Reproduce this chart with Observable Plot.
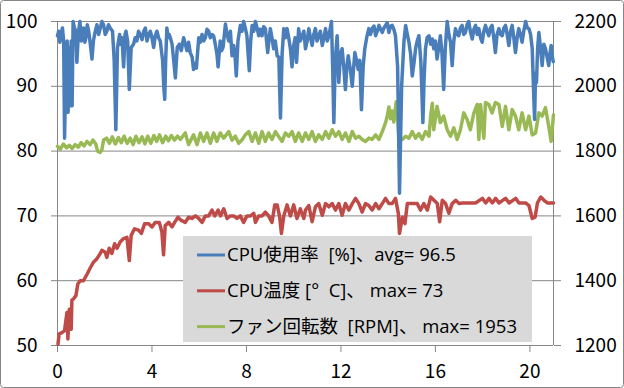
<!DOCTYPE html>
<html><head><meta charset="utf-8">
<script src="https://cdn.jsdelivr.net/npm/d3@7"></script>
<script src="https://cdn.jsdelivr.net/npm/@observablehq/plot@0.6"></script>
<style>
html,body{margin:0;padding:0;background:#fff;}
#chart{width:624px;height:388px;}
</style></head><body><div id="chart"></div>
<script>
// ---- tick labels ----
const xTicks = [0, 4, 8, 12, 16, 20];
const yTicks = [50, 60, 70, 80, 90, 100];
const rpmTicks = [1200, 1400, 1600, 1800, 2000, 2200];

// ---- legend ----
const seriesNames = ["CPU使用率  [%]、avg= 96.5", "CPU温度 [°  C]、 max= 73", "ファン回転数  [RPM]、 max= 1953"];
const seriesColors = ["#4a7ebb", "#be4b48", "#98b954"];

// ---- CPU usage [%] ----
const cpuT = [0.00,0.05,0.10,0.15,0.21,0.26,0.30,0.34,0.37,0.41,0.45,0.49,0.53,0.58,0.62,0.66,0.72,0.78,0.82,0.89,0.95,1.01,1.10,1.16,1.20,1.26,1.32,1.39,1.46,1.52,1.57,1.67,1.74,1.81,1.88,1.95,2.02,2.09,2.16,2.23,2.33,2.40,2.47,2.54,2.63,2.68,2.73,2.80,2.86,2.90,2.97,3.04,3.12,3.22,3.29,3.36,3.43,3.50,3.58,3.65,3.72,3.79,3.86,3.93,4.00,4.07,4.14,4.21,4.28,4.35,4.40,4.45,4.50,4.54,4.58,4.63,4.68,4.73,4.80,4.85,4.92,4.99,5.07,5.16,5.24,5.34,5.41,5.48,5.55,5.62,5.70,5.76,5.82,5.88,5.98,6.05,6.12,6.19,6.26,6.33,6.40,6.47,6.54,6.61,6.68,6.75,6.80,6.89,6.95,7.01,7.11,7.18,7.25,7.32,7.39,7.46,7.52,7.57,7.64,7.74,7.81,7.88,7.95,8.02,8.07,8.12,8.18,8.24,8.31,8.38,8.45,8.52,8.59,8.66,8.73,8.80,8.90,8.95,9.01,9.08,9.15,9.22,9.30,9.37,9.44,9.51,9.58,9.65,9.72,9.79,9.86,9.93,10.00,10.06,10.12,10.21,10.28,10.36,10.43,10.50,10.57,10.64,10.71,10.78,10.85,10.92,10.99,11.06,11.13,11.21,11.28,11.35,11.42,11.49,11.55,11.60,11.65,11.70,11.76,11.84,11.91,11.98,12.05,12.12,12.19,12.25,12.31,12.40,12.48,12.54,12.59,12.66,12.73,12.80,12.87,12.94,13.01,13.09,13.18,13.25,13.32,13.40,13.47,13.54,13.61,13.68,13.75,13.82,13.89,13.96,14.03,14.10,14.17,14.24,14.31,14.40,14.48,14.57,14.67,14.74,14.81,14.88,14.95,15.02,15.09,15.16,15.23,15.30,15.38,15.42,15.47,15.52,15.58,15.65,15.73,15.80,15.87,15.93,16.00,16.07,16.14,16.21,16.28,16.35,16.42,16.50,16.57,16.64,16.71,16.78,16.85,16.92,16.99,17.06,17.13,17.20,17.27,17.34,17.41,17.48,17.56,17.63,17.70,17.77,17.84,17.91,17.98,18.05,18.12,18.19,18.26,18.33,18.40,18.47,18.54,18.61,18.69,18.76,18.83,18.90,18.97,19.04,19.11,19.18,19.25,19.32,19.39,19.46,19.53,19.60,19.67,19.74,19.82,19.89,19.96,20.03,20.10,20.15,20.20,20.24,20.28,20.33,20.38,20.45,20.52,20.59,20.66,20.73,20.80,20.85,20.90,20.95,20.99];
const cpuV = [97.8,98.5,96.8,98,99,97,82,90,86,97,86,96,87,97,87,100,99,98.5,93.7,98.5,100,97,99,96.8,97.5,99.5,98.5,96.5,94.2,97,98,99.5,98,99,100,99.5,98,98.5,99.5,99,98.5,94,83.3,96,98,96.5,97.5,93,98,98.5,97,89.5,96,96.5,97.5,97,98.5,98,97.2,98.5,99,97,98,98.5,97.5,96,97.8,98.5,97.5,97,95.5,94,90,88,94,99,97.5,98,97.2,96.5,94,91.3,96,96.5,95.5,97.5,96.5,95.5,96.8,95.2,94.5,92.6,93.5,92.8,97.5,96.8,98,97,97.5,98.8,98.5,97.5,98,97.8,96.5,95,93,97,95.5,96,99.6,98,97,98.5,94.7,96.3,94.5,91.6,97,99.4,98.5,100,99,97.8,95,92.4,97,99.4,98.5,100,99,97.8,98.8,97.8,99.2,98.9,95.2,97,98.9,97.5,95.8,97,94.7,94.5,85.1,95,98.9,97.5,98.9,97.5,95.8,93,96.3,97.5,93.7,98.9,97,97.8,98.5,95.8,97,98.9,97.5,96.3,98,98.9,97,97.8,98.5,96.3,97.5,98.9,97,97.8,99,100,93,84.4,94,97.8,90.6,95,95.8,93,89.5,93,94.7,92.5,90,93,95.2,94,92.6,94,86.4,93,95.8,97.5,98.9,98,98.9,99.3,97.8,98.5,99.4,98.8,98.3,99,99.4,99.8,98.3,99.3,99.4,98.8,97.8,93,73.5,90,97,99.4,98,96.8,95,91.6,93.5,95.8,97,97.8,94,90,84.4,91,95.8,97.5,97.8,96.5,97.3,95.8,97,94.2,96,97.8,95,89.5,96,100,98,96.8,93.2,97,98.9,98,97.8,99,99.4,98,98.3,99.5,100,98.5,97.3,98.8,99.4,98,98.9,97.5,96.8,98.5,99.4,98.5,97.8,99,99.4,97.5,95.2,98,98.9,98,97.8,99,99.4,98,96.3,98.5,99.4,97.5,95.2,97.5,98.9,98,96.8,98.5,100,99,98.9,98,95.8,90,84.9,92,90.6,96,98.3,96,93.2,96.5,95.8,94.5,93.2,95,96.3,94.5,93.8];

// ---- CPU temperature [°C] ----
const tempT = [0.02,0.07,0.19,0.30,0.40,0.44,0.50,0.58,0.61,0.68,0.78,0.86,0.96,1.10,1.25,1.39,1.53,1.67,1.81,1.88,2.02,2.09,2.19,2.30,2.42,2.52,2.66,2.80,2.94,3.04,3.12,3.26,3.43,3.55,3.69,3.86,4.00,4.14,4.31,4.42,4.49,4.56,4.71,4.85,4.96,5.10,5.24,5.41,5.55,5.69,5.84,5.98,6.12,6.26,6.40,6.54,6.66,6.80,6.90,7.04,7.18,7.32,7.46,7.60,7.74,7.88,8.02,8.17,8.31,8.38,8.52,8.66,8.80,8.94,9.08,9.20,9.30,9.40,9.48,9.58,9.72,9.86,10.00,10.14,10.28,10.43,10.50,10.64,10.78,10.92,11.06,11.21,11.35,11.49,11.63,11.77,11.91,12.05,12.19,12.34,12.48,12.62,12.76,12.90,13.04,13.18,13.32,13.47,13.61,13.75,13.89,14.03,14.17,14.31,14.43,14.48,14.60,14.71,14.81,14.95,15.09,15.23,15.37,15.51,15.66,15.80,15.94,16.08,16.18,16.29,16.43,16.57,16.71,16.86,17.00,17.14,17.40,17.70,17.99,18.13,18.27,18.41,18.55,18.69,18.97,19.12,19.40,19.54,19.82,19.96,20.10,20.22,20.32,20.46,20.60,20.74,20.88,21.00];
const tempV = [50.2,51.8,52,52.3,55.1,51,55.6,52.5,57,57.2,57.7,59.5,60,60,61,62,62.9,63.4,64.2,64.7,64.4,63.6,65,64.2,65.7,65,66,66.5,66.7,63.1,67,68,67.8,67.3,68.8,68.8,68.3,69,69,67.5,64,68.5,69,68.3,69,69.8,69.3,69,69.8,69.6,70,69.6,69,70,70,70.9,70,70.9,70,71.1,69.6,70,70,69.6,70,69,70,70,70.4,69,70,70,70.6,70,69,71.7,71.7,70,67.3,70,71.7,70,71.7,69.6,71.1,69.6,70.9,71.6,69.1,71.4,71.9,70.1,71.9,71.4,71.9,70.9,71.9,70.1,71.9,70.9,71.9,72.7,71.9,70.6,71.9,71.6,70.9,71.9,71.1,71.9,72.7,71.9,71.9,72.7,70.4,67.3,69.8,68.8,71.9,71.9,71.9,71.9,70.9,71.9,70.9,72.9,72.4,71.9,69.1,72.4,71.9,70.4,71.9,72.4,71.9,72,72,72,72.7,72,72.7,72,72.7,72,72.7,72,72.7,72,72,71.6,69.6,69.8,72,72.9,72.4,72,72,72];

// ---- Fan speed [RPM] ----
const fanT = [0.00,0.12,0.25,0.38,0.50,0.62,0.75,0.88,1.00,1.12,1.25,1.38,1.50,1.62,1.70,1.80,1.88,1.95,2.08,2.20,2.32,2.45,2.58,2.70,2.82,2.95,3.08,3.20,3.32,3.45,3.58,3.70,3.82,3.95,4.08,4.20,4.32,4.45,4.58,4.70,4.82,4.95,5.08,5.20,5.41,5.55,5.76,5.91,6.05,6.19,6.33,6.47,6.61,6.75,6.89,7.04,7.25,7.39,7.53,7.67,7.81,7.95,8.10,8.24,8.38,8.52,8.66,8.80,8.94,9.08,9.23,9.37,9.51,9.65,9.79,9.93,10.07,10.21,10.36,10.50,10.64,10.78,10.92,11.06,11.21,11.35,11.49,11.63,11.77,11.91,12.05,12.19,12.34,12.48,12.62,12.76,12.90,13.04,13.18,13.32,13.47,13.61,13.75,13.89,13.96,14.03,14.10,14.17,14.24,14.34,14.40,14.45,14.60,14.74,14.88,15.02,15.16,15.30,15.44,15.58,15.73,15.80,15.87,15.93,16.07,16.21,16.35,16.50,16.64,16.78,16.92,17.06,17.20,17.34,17.48,17.63,17.77,17.84,17.91,18.05,18.12,18.26,18.40,18.54,18.69,18.83,18.97,19.11,19.25,19.39,19.53,19.67,19.82,19.96,20.10,20.24,20.38,20.52,20.66,20.80,20.90,21.00];
const fanV = [1815,1806,1822,1810,1818,1808,1820,1812,1826,1816,1830,1820,1834,1822,1800,1796,1804,1834,1840,1824,1844,1822,1842,1826,1846,1824,1840,1820,1846,1826,1844,1822,1846,1824,1848,1830,1850,1826,1846,1832,1848,1834,1846,1836,1856,1820,1850,1820,1856,1830,1856,1824,1856,1830,1856,1840,1860,1834,1846,1824,1834,1850,1860,1830,1856,1824,1860,1830,1856,1836,1860,1844,1830,1856,1846,1860,1830,1856,1830,1856,1836,1860,1830,1850,1836,1860,1840,1866,1846,1860,1836,1856,1830,1860,1840,1846,1836,1830,1840,1836,1850,1836,1860,1888,1908,1936,1900,1924,1890,1952,1910,1840,1836,1846,1840,1860,1840,1854,1836,1860,1846,1910,1948,1866,1938,1888,1908,1866,1846,1872,1836,1866,1918,1898,1866,1918,1944,1836,1944,1840,1950,1944,1918,1950,1944,1876,1938,1866,1928,1908,1866,1918,1866,1908,1850,1856,1918,1908,1934,1876,1830,1912];

// ---- build tables ----
const cpu = cpuT.map((t, i) => ({t, v: cpuV[i]}));
const temp = tempT.map((t, i) => ({t, v: tempV[i]}));
const fan = fanT.map((t, i) => ({t, v: fanV[i]}));

// secondary axis: RPM [1200, 2200] maps onto left scale [50, 100]
const rpmDomain = [rpmTicks[0], rpmTicks[rpmTicks.length - 1]];
const leftDomain = [yTicks[0], yTicks[yTicks.length - 1]];
const toLeft = d3.scaleLinear().domain(rpmDomain).range(leftDomain);
const rpmLabel = new Map(rpmTicks.map(r => [toLeft(r), String(r)]));

const FONT = "'Noto Sans CJK JP', 'Noto Sans', sans-serif";
const LEGEND_FONT = "'Open Sans', 'Noto Sans CJK JP', sans-serif";
const GRID = "#868686";
const LW = 3.5;

const chart = Plot.plot({
  width: 624, height: 388,
  marginLeft: 57, marginRight: 71, marginTop: 21, marginBottom: 43,
  style: {fontFamily: FONT, fontSize: "19px", background: "#fff", color: "#000", overflow: "visible"},
  x: {domain: [0, 21], label: null},
  y: {domain: leftDomain, label: null},
  marks: [
    Plot.ruleY(yTicks, {stroke: GRID, strokeWidth: 1}),
    Plot.ruleX([0, 21], {stroke: GRID, strokeWidth: 1}),
    Plot.axisY(yTicks, {anchor: "left", tickSize: 6, tickPadding: 14, stroke: GRID, label: null}),
    Plot.axisY(rpmTicks.map(r => toLeft(r)), {anchor: "right", tickSize: 7, tickPadding: 14, stroke: GRID, label: null, tickFormat: d => rpmLabel.get(d)}),
    Plot.axisX(xTicks, {anchor: "bottom", tickSize: 7, tickPadding: 12, stroke: GRID, label: null}),
    Plot.line(fan, {x: "t", y: d => toLeft(d.v), stroke: seriesColors[2], strokeWidth: LW, strokeLinejoin: "round"}),
    Plot.line(temp, {x: "t", y: "v", stroke: seriesColors[1], strokeWidth: LW, strokeLinejoin: "round"}),
    Plot.line(cpu, {x: "t", y: "v", stroke: seriesColors[0], strokeWidth: LW, strokeLinejoin: "round"})
  ]
});

const svg = d3.select(chart);
// outer chart border
svg.append("rect").attr("x", 0.5).attr("y", 0.5).attr("width", 623).attr("height", 387)
  .attr("rx", 3).attr("fill", "none").attr("stroke", GRID);
// legend
const lg = svg.append("g").attr("font-family", LEGEND_FONT).attr("font-size", 18.5).attr("text-anchor", "start");
lg.append("rect").attr("x", 183).attr("y", 236).attr("width", 349).attr("height", 106).attr("fill", "#d9d9d9");
seriesNames.forEach((name, i) => {
  const y = 255 + i * 35.8;
  lg.append("line").attr("x1", 197).attr("x2", 225).attr("y1", y).attr("y2", y)
    .attr("stroke", seriesColors[i]).attr("stroke-width", 3);
  lg.append("text").attr("x", 227).attr("y", y).attr("dy", "0.35em").attr("fill", "#000")
    .attr("text-anchor", "start").style("white-space", "pre").text(name);
});
document.getElementById("chart").appendChild(chart);
</script>
</body></html>
